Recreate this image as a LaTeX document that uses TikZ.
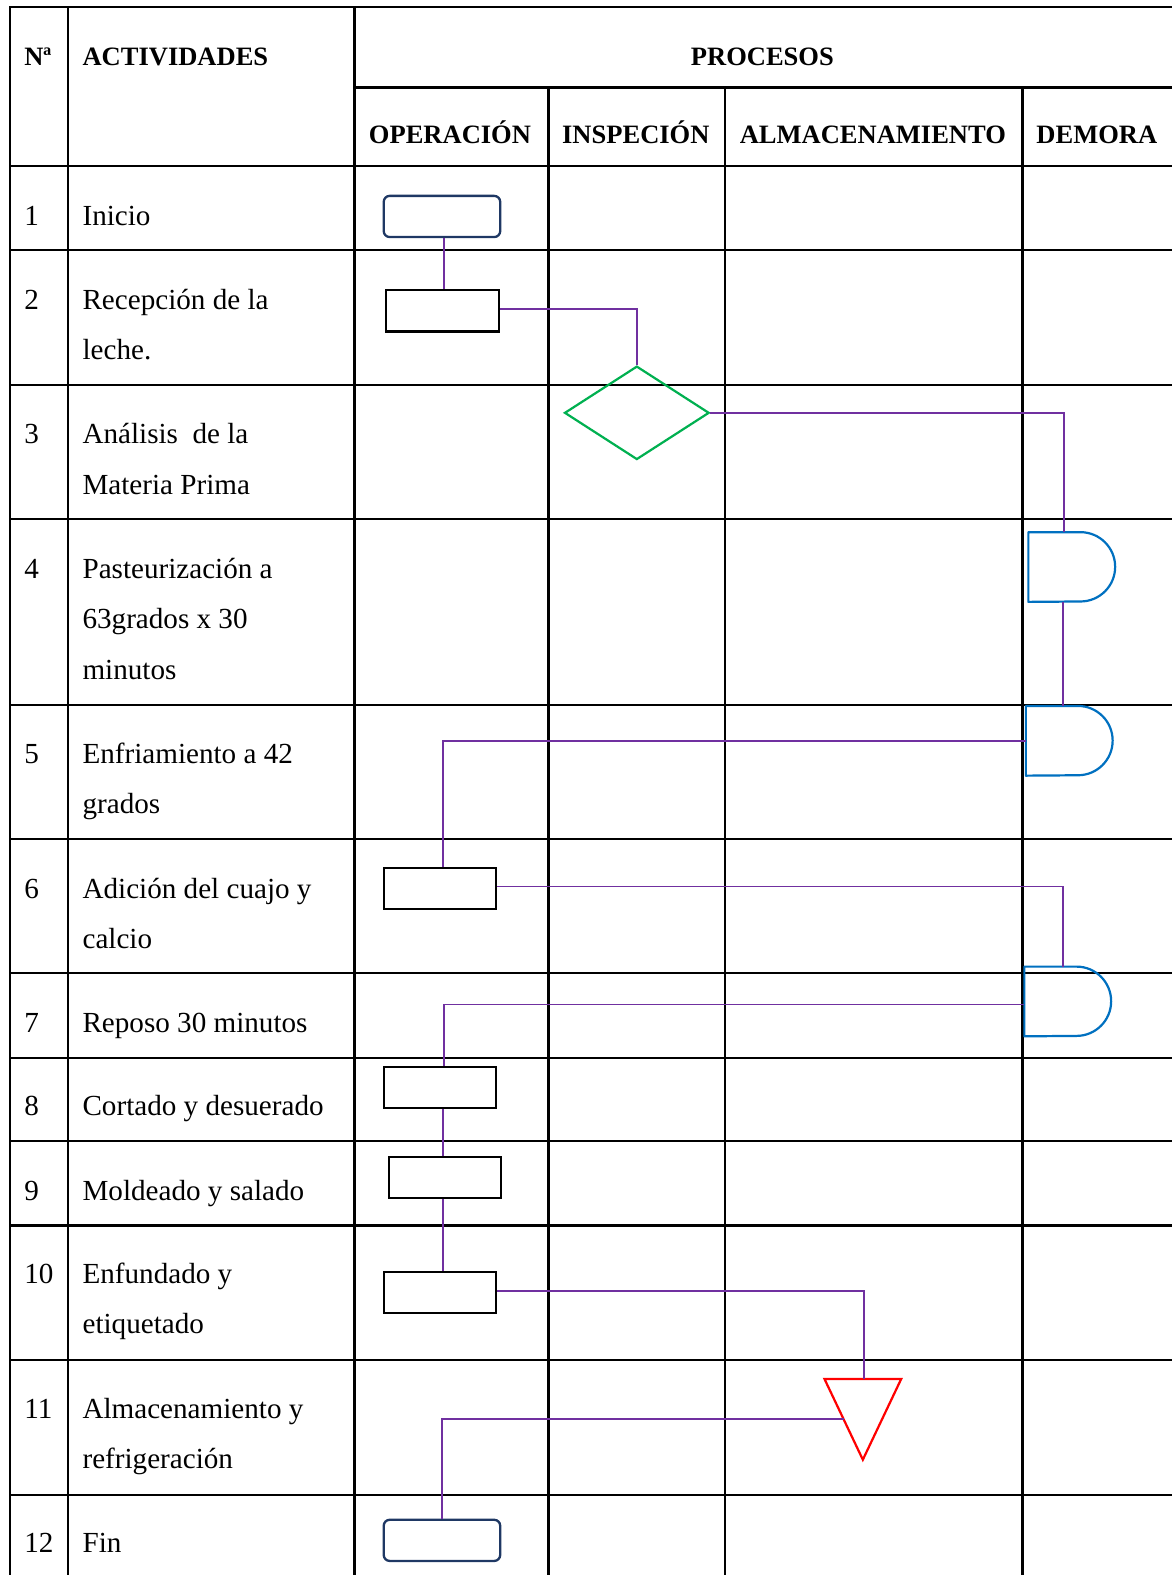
\documentclass[tikz,border=0pt]{standalone}
\usepackage{fontspec}
\setmainfont{Liberation Serif}
\usetikzlibrary{shapes.geometric,calc}

\definecolor{connpurple}{RGB}{112,48,160}
\definecolor{termblue}{RGB}{31,56,100}
\definecolor{inspgreen}{RGB}{0,176,80}
\definecolor{delayblue}{RGB}{0,112,192}
\definecolor{storered}{RGB}{255,0,0}

\tikzset{
  tabline/.style={line width=2.3pt, black},
  conn/.style={line width=1.8pt, connpurple},
  operbox/.style={draw=black, line width=2.3pt, minimum width=112pt, minimum height=41pt, inner sep=0pt},
  termbox/.style={draw=termblue, line width=2.3pt, rounded corners=6pt, minimum width=116pt, minimum height=41pt, inner sep=0pt},
  inspbox/.style={diamond, draw=inspgreen, line width=2.2pt, minimum width=144pt, minimum height=93pt, inner sep=0pt},
  delayframe/.style={inner sep=0pt, minimum width=86pt, minimum height=69pt},
  storeframe/.style={inner sep=0pt, minimum width=76pt, minimum height=80pt},
  delayline/.style={draw=delayblue, line width=2.2pt, line join=round},
  storeline/.style={draw=storered, line width=2.2pt},
  cell/.style={anchor=base west, inner sep=0pt, font=\fontsize{29}{34}\selectfont},
  head/.style={anchor=base, inner sep=0pt, font=\bfseries\fontsize{26.4}{30}\selectfont},
}

% D-shaped delay symbol drawn over an invisible frame node
\newcommand\delaysymbol[1]{%
  \draw[delayline] (#1.north west) -- ([xshift=-34.5pt]#1.north east)
    arc[start angle=90, end angle=-90, radius=34.5pt] -- (#1.south west) -- cycle;}

\begin{document}
\begin{tikzpicture}[x=1pt, y=-1pt]
\useasboundingbox (0,0) rectangle (1166,1568);

% ---- table grid ----
\foreach \xx in {10,68,353} \draw[tabline] (\xx,6) -- (\xx,1575);
\foreach \xx in {546,722,1018} \draw[tabline] (\xx,87) -- (\xx,1575);
\draw[tabline] (9,7) -- (1175,7);
\draw[tabline] (353,87) -- (1175,87);
\foreach \yy in {165,249,383,517,702,835,969,1053,1136,1220,1354,1488}
  \draw[tabline] (9,\yy) -- (1175,\yy);

% ---- header ----
\node[head, anchor=base west] (hnum) at (24,65) {Nª};
\node[head, anchor=base west] (hact) at (82,65) {ACTIVIDADES};
\node[head] (hproc) at (759,65) {PROCESOS};
\node[head] (hop) at (448,143) {OPERACIÓN};
\node[head] (hins) at (633,143) {INSPECIÓN};
\node[head] (halm) at (869,143) {ALMACENAMIENTO};
\node[head] (hdem) at (1092,143) {DEMORA};

% ---- activity rows ----
\node[cell] (n1) at (24,224) {1};
\node[cell] (a1) at (82,224) {Inicio};

\node[cell] (n2) at (24,308) {2};
\node[cell] (a2a) at (82,308) {Recepción de la};
\node[cell] (a2b) at (82,358) {leche.};

\node[cell] (n3) at (24,442) {3};
\node[cell] (a3a) at (82,442) {Análisis\ \ de la};
\node[cell] (a3b) at (82,492) {Materia Prima};

\node[cell] (n4) at (24,576) {4};
\node[cell] (a4a) at (82,576) {Pasteurización a};
\node[cell] (a4b) at (82,626) {63grados x 30};
\node[cell] (a4c) at (82,676) {minutos};

\node[cell] (n5) at (24,760) {5};
\node[cell] (a5a) at (82,760) {Enfriamiento a 42};
\node[cell] (a5b) at (82,810) {grados};

\node[cell] (n6) at (24,894) {6};
\node[cell] (a6a) at (82,894) {Adición del cuajo y};
\node[cell] (a6b) at (82,944) {calcio};

\node[cell] (n7) at (24,1028) {7};
\node[cell] (a7) at (82,1028) {Reposo 30 minutos};

\node[cell] (n8) at (24,1111) {8};
\node[cell] (a8) at (82,1111) {Cortado y desuerado};

\node[cell] (n9) at (24,1195) {9};
\node[cell] (a9) at (82,1195) {Moldeado y salado};

\node[cell] (n10) at (24,1278) {10};
\node[cell] (a10a) at (82,1278) {Enfundado y};
\node[cell] (a10b) at (82,1328) {etiquetado};

\node[cell] (n11) at (24,1412) {11};
\node[cell] (a11a) at (82,1412) {Almacenamiento y};
\node[cell] (a11b) at (82,1462) {refrigeración};

\node[cell] (n12) at (24,1546) {12};
\node[cell] (a12) at (82,1546) {Fin};

% ---- process symbols ----
\node[termbox] (t1) at (440,215.5) {};
\node[operbox, minimum width=113pt] (o2) at (440.5,309.5) {};
\node[inspbox] (ins) at (634,411) {};
\node[delayframe] (d1) at (1067,564.5) {};
\node[delayframe] (d2) at (1064.5,737.5) {};
\node[operbox] (o6) at (438,884.5) {};
\node[delayframe] (d3) at (1063,997) {};
\node[operbox] (o8) at (438,1082.5) {};
\node[operbox] (o9) at (443,1172.5) {};
\node[operbox] (o10) at (438,1286.5) {};
\node[storeframe] (st) at (859,1413) {};
\node[termbox] (t12) at (440,1533.5) {};

\delaysymbol{d1}
\delaysymbol{d2}
\delaysymbol{d3}
\draw[storeline] (st.north west) -- (st.north east) -- (st.south) -- cycle;
\coordinate (stin) at ($(st.north west)!0.5!(st.south)$);

% ---- connectors ----
\draw[conn] ([xshift=2pt]t1.south) -- ([xshift=2pt]t1.south |- o2.north);
\draw[conn] ([yshift=1.5pt]o2.east) -| (ins.north);
\draw[conn] (ins.east) -| ([xshift=-8pt]d1.north);
\draw[conn] ([xshift=-9pt]d1.south) -- ([xshift=-9pt]d1.south |- d2.north);
\draw[conn] (d2.west) -| ([xshift=3pt]o6.north);
\draw[conn] ([yshift=2pt]o6.east) -| ([xshift=-5pt]d3.north);
\draw[conn] ([yshift=-3pt]d3.west) -| ([xshift=4pt]o8.north);
\draw[conn] ([xshift=3pt]o8.south) -- ([xshift=3pt]o8.south |- o9.north);
\draw[conn] ([xshift=-2pt]o9.south) -- ([xshift=-2pt]o9.south |- o10.north);
\draw[conn] ([yshift=1.5pt]o10.east) -| ([xshift=1pt]st.north);
\draw[conn] (stin) -| (t12.north);
\end{tikzpicture}
\end{document}
